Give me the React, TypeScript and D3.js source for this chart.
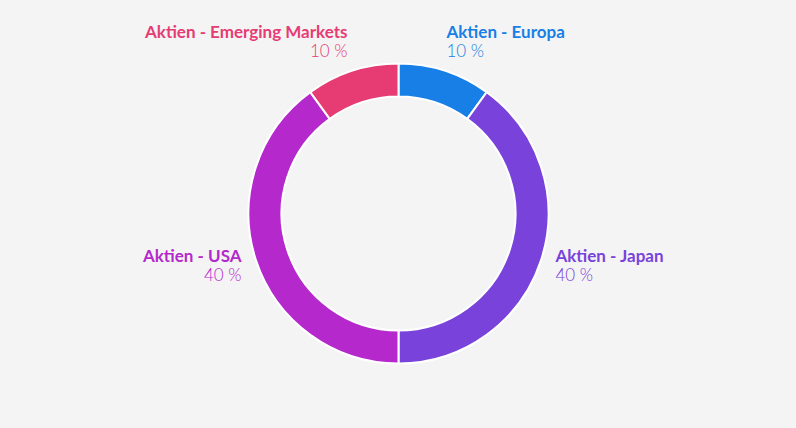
import React from "react";
import * as d3 from "d3";

const categories = ["Aktien - Europa", "Aktien - Japan", "Aktien - USA", "Aktien - Emerging Markets"];
const values = [10, 40, 40, 10];
const colors = ["#177fe5", "#7842db", "#b428cc", "#e63c73"];

const W = 796;
const H = 428;
const cx = 398.5;
const cy = 213.5;
const R = 150;
const r = 117;

export default function App() {
  const pie = d3.pie<number>().sort(null).value((d) => d)(values);
  const arc = d3.arc<d3.PieArcDatum<number>>().innerRadius(r).outerRadius(R);
  const font = "Lato, 'Open Sans', sans-serif";
  return (
    <svg width={W} height={H} style={{ position: "absolute", left: 0, top: 0, background: "#f4f4f4" }}>
      <rect width={W} height={H} fill="#f4f4f4" />
      <g transform={`translate(${cx},${cy})`}>
        {pie.map((p, i) => (
          <path key={i} d={arc(p) || ""} fill={colors[i]} stroke="#ffffff" strokeWidth={2} />
        ))}
      </g>
      {pie.map((p, i) => {
        const a = (p.startAngle + p.endAngle) / 2;
        const s = Math.sin(a);
        const c = Math.cos(a);
        const lr = R + 15;
        const x = cx + s * lr - (s > 0 && Math.abs(c) > 0.5 ? 3 : 0);
        const y = cy - c * lr;
        const anchor = s >= 0 ? "start" : "end";
        const top = Math.abs(c) > 0.5;
        const y2 = top ? y : y + 17;
        const y1 = y2 - 19;
        return (
          <g key={i} fontFamily={font} fill={colors[i]} textAnchor={anchor}>
            <text x={x} y={y1} fontSize={17} fontWeight="bold">{categories[i]}</text>
            <text x={x} y={y2} fontSize={17} fontWeight={300}>{values[i]} %</text>
          </g>
        );
      })}
    </svg>
  );
}
